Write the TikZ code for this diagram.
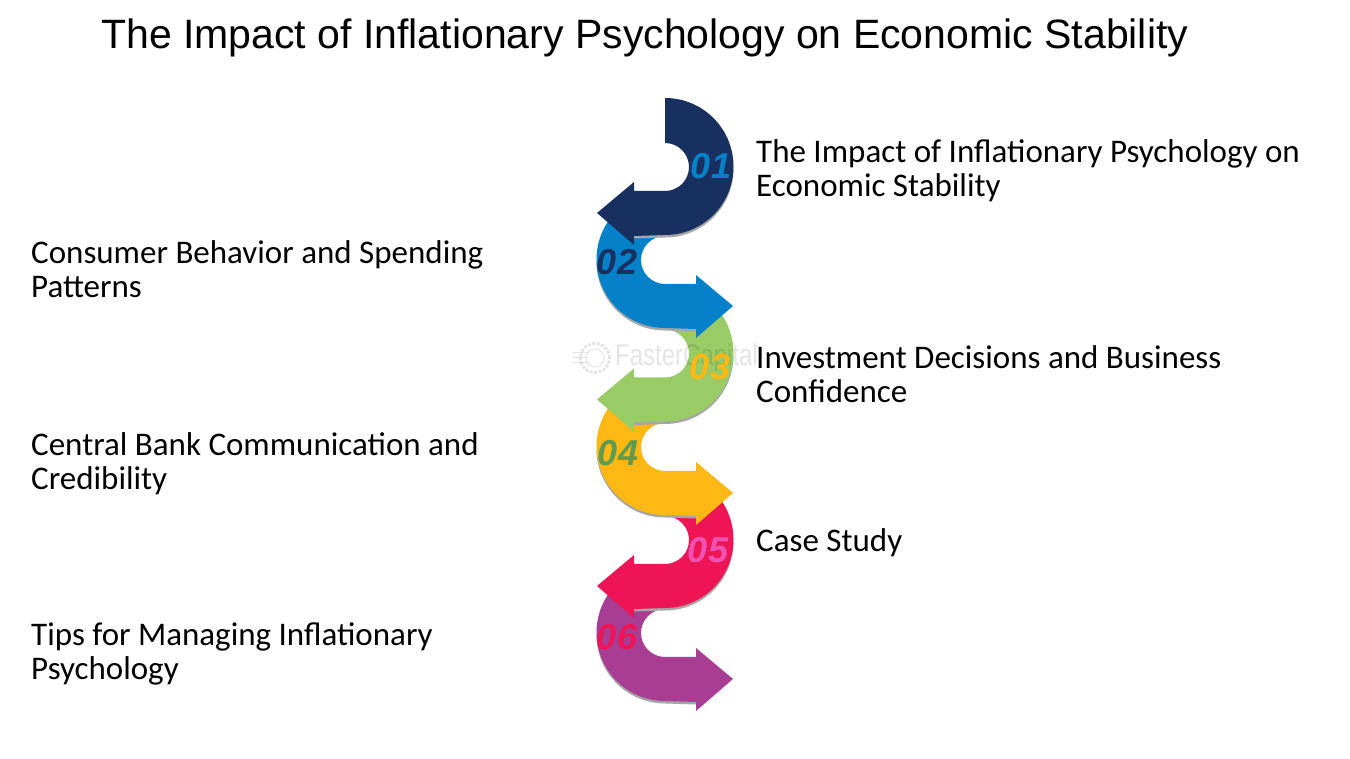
\documentclass[tikz,border=0pt]{standalone}
\usepackage{fontspec}
\setmainfont{Carlito}
\newfontfamily\titlefont{Liberation Sans}
\definecolor{navyarrow}{HTML}{17305F}
\definecolor{bluearrow}{HTML}{0481C9}
\definecolor{greenarrow}{HTML}{99CB67}
\definecolor{amberarrow}{HTML}{FDB813}
\definecolor{redarrow}{HTML}{EE1556}
\definecolor{purplearrow}{HTML}{A93D94}
\definecolor{mossnum}{HTML}{5F9A50}
\definecolor{pinknum}{HTML}{F052B4}
\tikzset{
	numlabel/.style={font=\titlefont\bfseries\itshape\fontsize{36}{36}\selectfont},
	bodylabel/.style={anchor=west,align=left,inner sep=0pt,font=\fontsize{33}{34}\selectfont},
	marktrace/.style={black,opacity=0.1},
}
% One bent arrow: colour, x of bend centre, y of bend centre, xscale.
\newcommand{\bentarrow}[4]{
	\fill[black!35,shift={(#2,#3-2.5)},xscale=#4]
		(68.5,0) arc (0:-90:68.5) -- (-31,-69.5) -- (-31,-40) -- (30,-10) -- cycle;
	\fill[#1,shift={(#2,#3)},xscale=#4]
		(0,68.5) arc (90:-90:68.5) -- (-31,-69.5) -- (-31,-78.5) -- (-68,-46.5)
		-- (-31,-15.5) -- (-31,-24.5) -- (0,-24.5) arc (-90:90:24) -- cycle;
}

\begin{document}
\begin{tikzpicture}[x=1pt,y=1pt]
	\useasboundingbox[fill=white] (0,0) rectangle (1350,759);
	% Title.
	\node[inner sep=0pt,anchor=base west,font=\titlefont\fontsize{41}{41}\selectfont] (title) at (101,710) {The Impact of Inflationary Psychology on Economic Stability};
	% Arrows, lowest first.
	\bentarrow{purplearrow}{665}{126.5}{-1}
	\bentarrow{redarrow}{665}{219.5}{1}
	\bentarrow{amberarrow}{665}{312.5}{-1}
	\bentarrow{greenarrow}{665}{406}{1}
	% Watermark.
	\node[marktrace,inner sep=0pt,anchor=west,xscale=0.8,transform shape,font=\titlefont\fontsize{30}{30}\selectfont] (mark) at (615,401) {FasterCapital};
	\node[draw,marktrace,line width=3pt,dash pattern=on 3pt off 1.5pt,circle,minimum size=29pt,inner sep=0pt] (gear) at (595,401) {};
	\node[draw,marktrace,line width=1pt,circle,minimum size=18pt,inner sep=0pt] (hub) at (595,401) {};
	\foreach \y in {396,401,406}
		\draw[marktrace,line width=1pt] (572,\y) -- (588,\y);
	\bentarrow{bluearrow}{665}{499.5}{-1}
	\bentarrow{navyarrow}{665}{592.5}{1}
	% Numbers.
	\node[numlabel,text=bluearrow] (num1) at (711,593) {01};
	\node[numlabel,text=navyarrow] (num2) at (617,497) {02};
	\node[numlabel,text=amberarrow] (num3) at (710,392) {03};
	\node[numlabel,text=mossnum] (num4) at (618,306) {04};
	\node[numlabel,text=pinknum] (num5) at (708,209) {05};
	\node[numlabel,text=redarrow] (num6) at (617,122) {06};
	% Labels.
	\node[bodylabel] (text1) at (756,588) {The Impact of Inflationary Psychology on\\Economic Stability};
	\node[bodylabel] (text2) at (31,490) {Consumer Behavior and Spending\\Patterns};
	\node[bodylabel] (text3) at (756,385) {Investment Decisions and Business\\Confidence};
	\node[bodylabel] (text4) at (31,295) {Central Bank Communication and\\Credibility};
	\node[bodylabel] (text5) at (756,216) {Case Study};
	\node[bodylabel] (text6) at (31,105) {Tips for Managing Inflationary\\Psychology};
\end{tikzpicture}
\end{document}
